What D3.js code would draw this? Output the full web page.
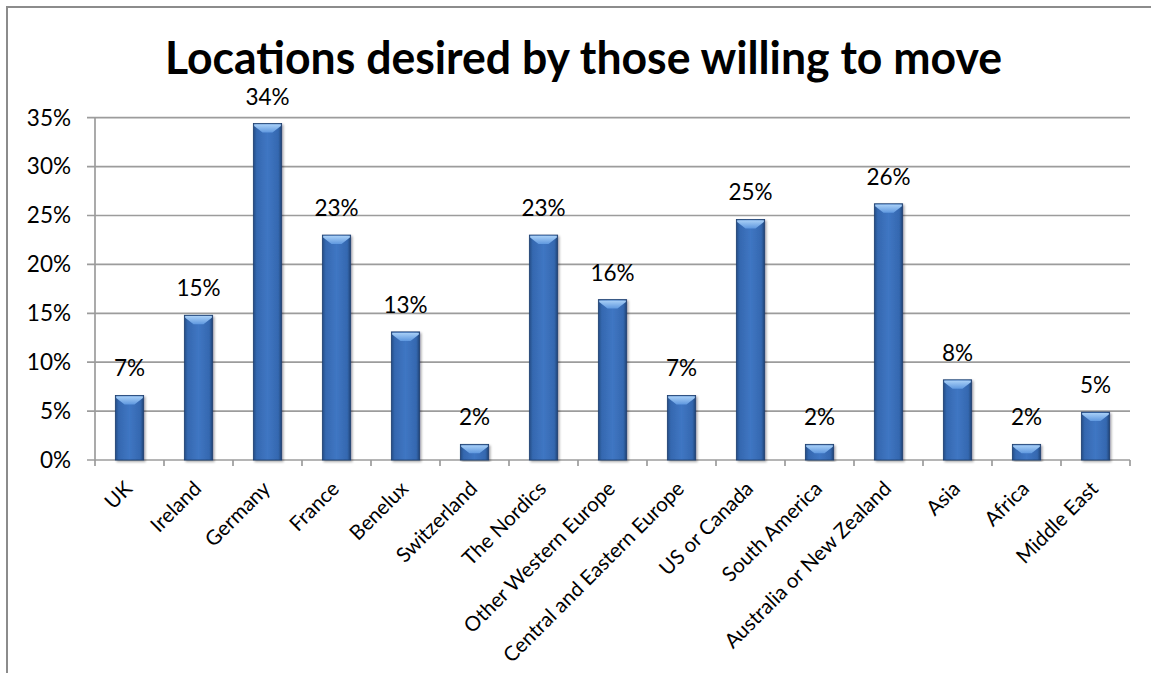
<!DOCTYPE html>
<html>
<head>
<meta charset="utf-8">
<script src="https://cdn.jsdelivr.net/npm/d3@7"></script>
<style>
  html, body { margin: 0; padding: 0; background: #fff; }
  svg { display: block; }
  text { font-family: Lato, "Open Sans", sans-serif; fill: #000; }
</style>
</head>
<body>
<svg id="chart" width="1151" height="673"></svg>
<script>
const title = "Locations desired by those willing to move";
const categories = ["UK", "Ireland", "Germany", "France", "Benelux", "Switzerland", "The Nordics",
  "Other Western Europe", "Central and Eastern Europe", "US or Canada", "South America",
  "Australia or New Zealand", "Asia", "Africa", "Middle East"];
const values = [0.066, 0.148, 0.344, 0.230, 0.131, 0.016, 0.230, 0.164, 0.066, 0.246, 0.016, 0.262, 0.082, 0.016, 0.049];
const yTicks = [0, 0.05, 0.10, 0.15, 0.20, 0.25, 0.30, 0.35];

const svg = d3.select("#chart");
const W = 1151, H = 673;
const plot = { left: 95, right: 1130, top: 117.7, bottom: 460 };

svg.append("rect").attr("width", W).attr("height", H).attr("fill", "#fff");
// outer chart frame (clipped at right/bottom)
svg.append("rect").attr("x", 7).attr("y", 7).attr("width", 1200).attr("height", 800)
  .attr("fill", "none").attr("stroke", "#8c8c8c").attr("stroke-width", 2);

const defs = svg.append("defs");
const g1 = defs.append("linearGradient").attr("id", "barGrad").attr("x1", 0).attr("x2", 1).attr("y1", 0).attr("y2", 0);
[[0, "#244c85"], [0.12, "#3568b0"], [0.5, "#3f76c3"], [0.88, "#3568b0"], [1, "#1f4478"]]
  .forEach(([o, c]) => g1.append("stop").attr("offset", o).attr("stop-color", c));
const g2 = defs.append("linearGradient").attr("id", "bevelGrad").attr("x1", 0).attr("x2", 0).attr("y1", 0).attr("y2", 1);
[[0, "#a9d0f7"], [1, "#5f98df"]].forEach(([o, c]) => g2.append("stop").attr("offset", o).attr("stop-color", c));
const f = defs.append("filter").attr("id", "shadow").attr("x", "-20%").attr("y", "-5%").attr("width", "150%").attr("height", "115%");
f.append("feDropShadow").attr("dx", 1.5).attr("dy", 1.5).attr("stdDeviation", 1.2).attr("flood-color", "#000").attr("flood-opacity", 0.35);

const x = d3.scaleBand().domain(categories).range([plot.left, plot.right]).paddingInner(0.59).paddingOuter(0.295);
const y = d3.scaleLinear().domain([0, 0.35]).range([plot.bottom, plot.top]);

// gridlines + y ticks
svg.append("g").selectAll("line").data(yTicks.filter(d => d > 0)).join("line")
  .attr("x1", plot.left - 8).attr("x2", plot.right)
  .attr("y1", d => y(d)).attr("y2", d => y(d))
  .attr("stroke", "#9c9c9c").attr("stroke-width", 1.7);

// y axis line
svg.append("line").attr("x1", plot.left).attr("x2", plot.left).attr("y1", plot.top).attr("y2", plot.bottom + 1)
  .attr("stroke", "#9c9c9c").attr("stroke-width", 1.7);

// y tick labels
svg.append("g").selectAll("text").data(yTicks).join("text")
  .attr("x", 71).attr("y", d => y(d)).attr("dy", "0.35em")
  .attr("text-anchor", "end").attr("font-size", 22.5)
  .text(d => d3.format(".0%")(d));

// x axis line and ticks
svg.append("line").attr("x1", plot.left - 8).attr("x2", plot.right).attr("y1", plot.bottom).attr("y2", plot.bottom)
  .attr("stroke", "#9c9c9c").attr("stroke-width", 1.7);
const bounds = d3.range(categories.length + 1).map(i => plot.left + i * x.step());
svg.append("g").selectAll("line").data(bounds).join("line")
  .attr("x1", d => d).attr("x2", d => d).attr("y1", plot.bottom).attr("y2", plot.bottom + 6)
  .attr("stroke", "#9c9c9c").attr("stroke-width", 1.7);

// bars
const bars = svg.append("g");
const bw = x.bandwidth();
categories.forEach((c, i) => {
  const x0 = x(c), top = y(values[i]), h = plot.bottom - top;
  const bg = bars.append("g");
  bg.append("rect").attr("x", x0).attr("y", top).attr("width", bw).attr("height", h)
    .attr("fill", "url(#barGrad)").attr("stroke", "#1d3f70").attr("stroke-width", 0.8)
    .attr("filter", "url(#shadow)");
  const d = Math.min(9, h - 1);
  const cx = x0 + bw / 2;
  bg.append("polygon")
    .attr("points", [
      [x0 + 0.8, top + 0.8], [x0 + bw - 0.8, top + 0.8],
      [x0 + bw - 0.8, top + Math.min(2.5, d)], [cx + 5, top + d], [cx - 5, top + d],
      [x0 + 0.8, top + Math.min(2.5, d)]
    ].map(p => p.join(",")).join(" "))
    .attr("fill", "url(#bevelGrad)");
});

// data labels
svg.append("g").selectAll("text").data(categories).join("text")
  .attr("x", d => x(d) + bw / 2)
  .attr("y", (d, i) => y(values[i]) - 19)
  .attr("text-anchor", "middle").attr("font-size", 22.5)
  .text((d, i) => d3.format(".0%")(values[i]));

// x labels
svg.append("g").selectAll("text").data(categories).join("text")
  .attr("transform", d => `translate(${x(d) + bw / 2 + 4},${plot.bottom + 30}) rotate(-45)`)
  .attr("text-anchor", "end").attr("font-size", 20.5)
  .text(d => d);

// title
svg.append("text").attr("x", 165).attr("y", 74)
  .attr("font-size", 45).attr("font-weight", "bold")
  .attr("textLength", 837).attr("lengthAdjust", "spacingAndGlyphs")
  .text(title);
</script>
</body>
</html>
